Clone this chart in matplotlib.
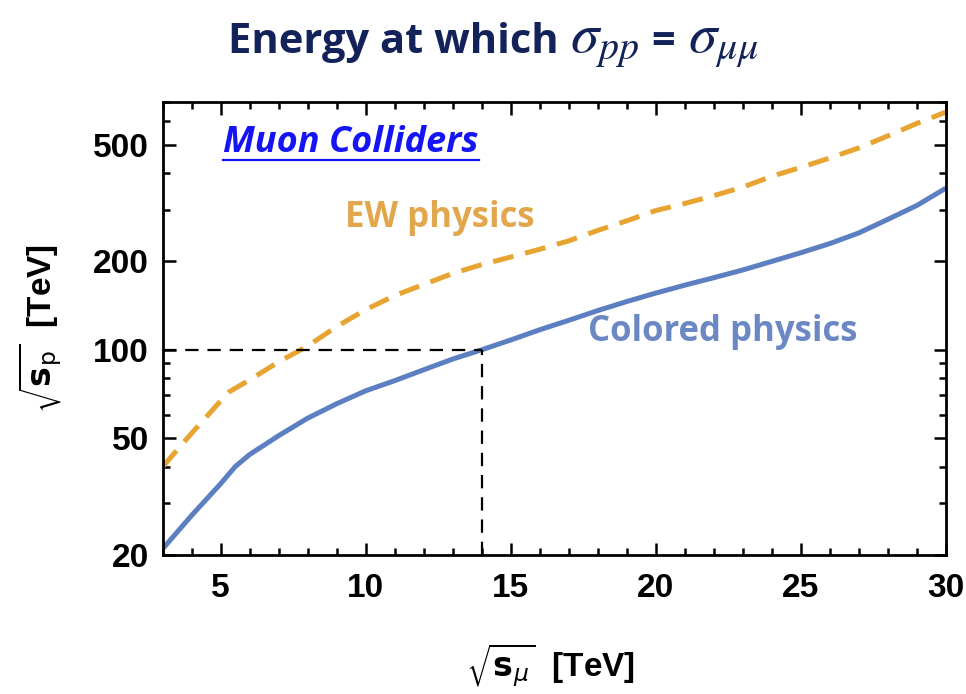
import matplotlib
matplotlib.use("Agg")
import matplotlib.pyplot as plt
from matplotlib.lines import Line2D
from matplotlib.ticker import FixedLocator, NullFormatter

# sqrt(s_mu) in TeV, colored physics (solid blue)
x_col = [3, 4, 5, 5.5, 6, 7, 8, 9, 10, 11, 12, 13, 14, 15, 16, 17, 18, 19,
         20, 21, 22, 23, 24, 25, 26, 27, 28, 29, 30]
colored = [21, 27.3, 35, 40, 44, 51, 58.5, 65.5, 72.5, 78.5, 85.5, 93, 100,
           108, 117, 126, 136, 146, 156, 166, 176, 187, 200, 214, 230, 250,
           278, 310, 355]
# EW physics (dashed orange)
x_ew = [3, 4, 5, 5.3, 6, 7, 8, 9, 10, 11, 12, 13, 14, 15, 16, 17, 18, 19,
        20, 21, 22, 23, 24, 25, 26, 27, 28, 29, 30]
ew = [40, 52, 67, 72, 79, 91, 103, 120, 137, 153, 167, 182, 195, 207, 220,
      235, 255, 275, 298, 315, 335, 358, 390, 418, 450, 487, 535, 590, 645]

# reference point
x_ref = 14
y_ref = 100

yticks = [20, 50, 100, 200, 500]
yminor = [30, 40, 60, 70, 80, 90, 300, 400, 600, 700]

W, H = 966, 694
fig = plt.figure(figsize=(W / 100, H / 100), dpi=100)
ax = fig.add_axes([162.7 / W, 1 - 555 / H, (945.7 - 162.7) / W, (555 - 101.7) / H])

blue = "#5b7fc0"
orange = "#e8a431"

ax.plot(x_col, colored, color=blue, lw=3.6, solid_capstyle="butt")
ax.plot(x_ew, ew, color=orange, lw=3.6, dashes=(4.2, 2.4))

ax.plot([3, x_ref], [y_ref, y_ref], color="black", lw=1.6, dashes=(6, 4))
ax.plot([x_ref, x_ref], [20, y_ref], color="black", lw=1.6, dashes=(6, 4))

ax.set_yscale("log")
ax.set_xlim(3, 30)
ax.set_ylim(20, 700)

ax.set_xticks([5, 10, 15, 20, 25, 30])
ax.xaxis.set_minor_locator(FixedLocator(list(range(3, 31))))
ax.set_yticks(yticks)
ax.set_yticklabels([str(v) for v in yticks])
ax.yaxis.set_minor_locator(FixedLocator(yminor))
ax.yaxis.set_minor_formatter(NullFormatter())

for sp in ax.spines.values():
    sp.set_linewidth(2)
ax.tick_params(which="both", direction="in", top=True, right=True, width=1.8,
               labelsize=24)
ax.tick_params(axis="y", pad=10)
ax.tick_params(axis="x", pad=13)
ax.tick_params(which="major", length=9)
ax.tick_params(which="minor", length=5)
for lab in ax.get_xticklabels() + ax.get_yticklabels():
    lab.set_family("Liberation Sans")
    lab.set_fontweight("bold")

# title, built from pieces so the sigmas can be larger
navy = "#13235a"
title_parts = [("Energy at which", 30, None, 0),
               (r"$\sigma_{pp}$", 41, "stix", 11),
               ("=", 30, None, 12),
               (r"$\sigma_{\mu\mu}$", 41, "stix", 13)]
x_px = 228
renderer = fig.canvas.get_renderer()
for txt, size, mfam, gap in title_parts:
    x_px += gap
    kw = dict(math_fontfamily=mfam) if mfam else {}
    t = fig.text(x_px / W, 1 - 53 / H, txt, ha="left", va="baseline",
                 fontsize=size, fontweight="bold", family="Open Sans",
                 color=navy, **kw)
    x_px = t.get_window_extent(renderer).x1

# in-plot labels
muon = fig.text(223 / W, 1 - 143 / H, "Muon Colliders", ha="left", va="center",
                fontsize=26, fontweight="bold", style="italic", family="Open Sans",
                color="#1414f5")
fig.text(345 / W, 1 - 218 / H, "EW physics", ha="left", va="center",
         fontsize=25, fontweight="bold", family="Open Sans", color="#e2a74c")
fig.text(588 / W, 1 - 332 / H, "Colored physics", ha="left", va="center",
         fontsize=25, fontweight="bold", family="Open Sans", color="#6b88c4")

# axis labels
fig.text(40 / W, 1 - 328 / H, r"$\sqrt{\mathbf{s}_{\mathrm{p}}}$  [TeV]",
         rotation=90, ha="center", va="center", fontsize=24, fontweight="bold",
         family="Liberation Sans", math_fontfamily="dejavusans")
fig.text(551 / W, 1 - 665 / H, r"$\sqrt{\mathbf{s}_{\mu}}$  [TeV]",
         ha="center", va="center", fontsize=24, fontweight="bold",
         family="Liberation Sans", math_fontfamily="dejavusans")

# underline for Muon Colliders
bb = muon.get_window_extent(renderer)
fig.add_artist(Line2D([bb.x0 / W, bb.x1 / W], [(bb.y0 + 1) / H, (bb.y0 + 1) / H],
                      color="#1414f5", lw=1.6))

fig.savefig("out.png", dpi=100)
